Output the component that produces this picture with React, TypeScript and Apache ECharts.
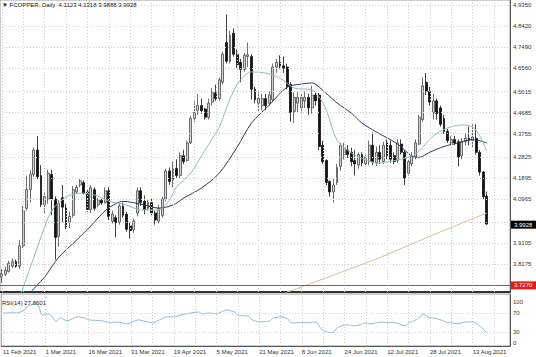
import React, { useEffect, useRef } from 'react';
import * as echarts from 'echarts';

// [open, high, low, close] per daily bar, 11 Feb 2021 onward
const candles: [number, number, number, number][] = [
  [3.765, 3.8, 3.74, 3.78], [3.778, 3.81, 3.77, 3.795], [3.79, 3.835, 3.785, 3.825], [3.812, 3.845, 3.805, 3.832],
  [3.832, 3.84, 3.805, 3.812], [3.812, 3.925, 3.8, 3.9], [3.9, 4.07, 3.89, 4.05], [4.06, 4.2, 4.05, 4.14],
  [4.14, 4.225, 4.085, 4.205], [4.205, 4.32, 4.195, 4.31], [4.31, 4.37, 4.185, 4.195], [4.2, 4.245, 4.065, 4.075],
  [4.075, 4.13, 4.04, 4.11], [4.1, 4.225, 4.08, 4.21], [4.205, 4.225, 4.03, 4.1], [4.1, 4.11, 3.84, 3.935],
  [3.94, 4.095, 3.895, 4.08], [4.105, 4.16, 4.0, 4.065], [4.065, 4.08, 3.97, 3.98], [4.0, 4.045, 3.975, 4.025],
  [4.03, 4.155, 4.02, 4.14], [4.13, 4.16, 4.12, 4.15], [4.16, 4.185, 4.15, 4.177], [4.17, 4.18, 4.12, 4.125],
  [4.13, 4.14, 4.045, 4.055], [4.055, 4.16, 4.04, 4.147], [4.14, 4.15, 4.05, 4.06], [4.075, 4.105, 4.065, 4.095],
  [4.095, 4.1, 4.075, 4.083], [4.085, 4.15, 4.08, 4.135], [4.135, 4.15, 4.01, 4.025], [4.005, 4.05, 3.995, 4.035],
  [4.02, 4.03, 3.935, 3.998], [4.0, 4.08, 3.99, 4.07], [4.07, 4.085, 4.02, 4.03], [4.035, 4.045, 3.96, 3.97],
  [3.985, 4.0, 3.93, 3.965], [3.968, 4.015, 3.955, 4.005], [4.04, 4.15, 4.025, 4.135], [4.135, 4.15, 4.07, 4.085],
  [4.09, 4.115, 4.035, 4.055], [4.06, 4.1, 4.05, 4.085], [4.085, 4.1, 4.03, 4.04], [4.04, 4.05, 3.99, 4.01],
  [4.005, 4.075, 3.995, 4.06], [4.03, 4.11, 4.02, 4.1], [4.1, 4.23, 4.09, 4.22], [4.22, 4.235, 4.16, 4.175],
  [4.18, 4.26, 4.15, 4.23], [4.23, 4.27, 4.19, 4.2], [4.2, 4.3, 4.19, 4.285], [4.285, 4.31, 4.25, 4.26],
  [4.265, 4.35, 4.26, 4.34], [4.34, 4.455, 4.335, 4.445], [4.445, 4.52, 4.43, 4.47], [4.48, 4.55, 4.46, 4.5],
  [4.5, 4.53, 4.465, 4.478], [4.485, 4.49, 4.44, 4.45], [4.45, 4.53, 4.44, 4.51], [4.515, 4.575, 4.5, 4.555],
  [4.555, 4.59, 4.52, 4.53], [4.53, 4.62, 4.52, 4.61], [4.6, 4.73, 4.59, 4.72], [4.77, 4.89, 4.68, 4.69],
  [4.69, 4.82, 4.68, 4.8], [4.81, 4.83, 4.71, 4.72], [4.72, 4.74, 4.66, 4.675], [4.685, 4.7, 4.6, 4.655],
  [4.655, 4.725, 4.645, 4.715], [4.71, 4.77, 4.665, 4.717], [4.71, 4.72, 4.525, 4.57], [4.57, 4.58, 4.51, 4.525],
  [4.51, 4.56, 4.47, 4.53], [4.5, 4.55, 4.48, 4.53], [4.53, 4.55, 4.48, 4.5], [4.51, 4.56, 4.5, 4.545],
  [4.525, 4.68, 4.52, 4.665], [4.665, 4.7, 4.64, 4.685], [4.685, 4.715, 4.655, 4.665], [4.67, 4.71, 4.64, 4.66],
  [4.665, 4.68, 4.57, 4.58], [4.59, 4.6, 4.43, 4.47], [4.475, 4.555, 4.425, 4.535], [4.51, 4.56, 4.47, 4.535],
  [4.49, 4.555, 4.47, 4.535], [4.52, 4.56, 4.49, 4.535], [4.535, 4.55, 4.46, 4.49], [4.49, 4.585, 4.465, 4.545],
  [4.545, 4.56, 4.5, 4.52], [4.545, 4.555, 4.31, 4.325], [4.33, 4.35, 4.25, 4.26], [4.265, 4.27, 4.16, 4.17],
  [4.175, 4.18, 4.11, 4.13], [4.13, 4.19, 4.085, 4.16], [4.17, 4.25, 4.16, 4.235], [4.24, 4.34, 4.22, 4.33],
  [4.29, 4.34, 4.27, 4.32], [4.31, 4.33, 4.275, 4.29], [4.3, 4.32, 4.24, 4.26], [4.265, 4.31, 4.2, 4.25],
  [4.245, 4.3, 4.23, 4.29], [4.29, 4.3, 4.24, 4.255], [4.25, 4.29, 4.24, 4.28], [4.26, 4.35, 4.245, 4.33],
  [4.33, 4.385, 4.245, 4.26], [4.255, 4.325, 4.24, 4.3], [4.3, 4.33, 4.25, 4.27], [4.26, 4.345, 4.25, 4.33],
  [4.34, 4.355, 4.27, 4.285], [4.33, 4.35, 4.255, 4.27], [4.285, 4.3, 4.25, 4.26], [4.265, 4.355, 4.255, 4.34],
  [4.335, 4.355, 4.29, 4.3], [4.3, 4.31, 4.16, 4.19], [4.21, 4.27, 4.2, 4.26], [4.25, 4.3, 4.24, 4.28],
  [4.28, 4.355, 4.27, 4.34], [4.335, 4.46, 4.33, 4.45], [4.44, 4.62, 4.43, 4.585], [4.6, 4.64, 4.545, 4.56],
  [4.56, 4.58, 4.5, 4.515], [4.47, 4.55, 4.44, 4.52], [4.52, 4.53, 4.44, 4.465], [4.49, 4.5, 4.41, 4.42],
  [4.445, 4.46, 4.38, 4.39], [4.39, 4.4, 4.34, 4.35], [4.34, 4.37, 4.33, 4.355], [4.355, 4.37, 4.33, 4.34],
  [4.345, 4.355, 4.24, 4.28], [4.285, 4.36, 4.27, 4.345], [4.345, 4.38, 4.33, 4.36], [4.36, 4.41, 4.33, 4.35],
  [4.35, 4.42, 4.32, 4.365], [4.36, 4.42, 4.29, 4.3], [4.3, 4.31, 4.2, 4.215], [4.215, 4.22, 4.1, 4.11],
  [4.1123, 4.1318, 3.9888, 3.9928],
];

// moving averages: [bar, value]
const maFast: [number, number][] = [
  [5, 3.68], [9, 3.85], [12, 3.98], [14, 4.05], [18, 4.108], [22, 4.125], [26, 4.117], [30, 4.091], [35, 4.074],
  [39, 4.053], [44, 4.053], [47, 4.095], [49, 4.151], [53, 4.211], [57, 4.31], [61, 4.408], [63, 4.49], [66, 4.59],
  [70, 4.644], [74, 4.639], [78, 4.618], [82, 4.575], [87, 4.567], [89, 4.537], [91, 4.481], [94, 4.352], [98, 4.297],
  [101, 4.275], [105, 4.254], [111, 4.267], [115, 4.285], [117, 4.305], [121, 4.37], [125, 4.404], [129, 4.417],
  [132, 4.408], [134, 4.37], [136, 4.305],
];
const maSlow: [number, number][] = [
  [8, 3.7], [12, 3.766], [16, 3.851], [21, 3.924], [25, 3.985], [28, 4.035], [30, 4.062], [34, 4.09], [40, 4.074],
  [44, 4.061], [48, 4.074], [51, 4.104], [56, 4.147], [61, 4.211], [66, 4.322], [70, 4.425], [75, 4.502], [80, 4.579],
  [84, 4.592], [87, 4.597], [89, 4.579], [94, 4.511], [98, 4.468], [101, 4.425], [105, 4.387], [111, 4.335],
  [115, 4.283], [117, 4.278], [120, 4.3], [124, 4.325], [128, 4.34], [132, 4.355], [136, 4.34],
];
const maLong: [number, number][] = [[79, 3.695], [90, 3.757], [105, 3.843], [120, 3.94], [136, 4.04]];

const rsi: [number, number][] = [
  [0, 69.4], [3, 70.6], [4, 70], [6, 76.3], [7, 84.7], [9, 89], [10, 84.7], [11, 65.8], [13, 67.9], [15, 51.7],
  [16, 59.5], [18, 53.2], [21, 61.6], [23, 59.5], [24, 55.3], [28, 53.2], [30, 49], [32, 51], [35, 46.8], [38, 55.3],
  [42, 49], [44, 55.3], [46, 61.6], [48, 61.6], [50, 65.8], [53, 70], [55, 72.1], [56, 67.9], [58, 70], [60, 67.9],
  [62, 74.2], [63, 76.3], [65, 72.1], [66, 65.8], [68, 63.7], [69, 63], [70, 55.3], [72, 51], [73, 51], [75, 53.2],
  [76, 59.5], [78, 61.6], [80, 57.4], [81, 49], [83, 49], [84, 49.6], [86, 49], [88, 51], [89, 40.5], [90, 32.1],
  [92, 28.5], [93, 30], [94, 38.4], [96, 44.7], [97, 44.7], [99, 42.6], [101, 46.8], [102, 49], [103, 46.8],
  [105, 49], [106, 51], [108, 49], [110, 49.6], [113, 42.6], [114, 49], [115, 51.7], [116, 55.3], [117, 59.5],
  [118, 67.9], [120, 59.5], [121, 59.5], [123, 55.3], [125, 49.6], [126, 49], [128, 46.8], [129, 49.6], [131, 51],
  [132, 51], [134, 42.6], [136, 27.8601],
];

const dateLabels = [
  '11 Feb 2021', '1 Mar 2021', '16 Mar 2021', '31 Mar 2021', '19 Apr 2021', '5 May 2021',
  '21 May 2021', '8 Jun 2021', '24 Jun 2021', '12 Jul 2021', '28 Jul 2021', '13 Aug 2021',
];
const priceTickValues = [4.935, 4.842, 4.749, 4.656, 4.5615, 4.4685, 4.3755, 4.2825, 4.1895, 4.0965, 4.0035, 3.9105, 3.8175];
const priceTickLabels = ['4.9350', '4.8420', '4.7490', '4.6560', '4.5615', '4.4685', '4.3755', '4.2825', '4.1895', '4.0965', '', '3.9105', '3.8175'];
const alertLevel = 3.727;
const rsiLevels = [70, 30];
const rsiScale = [100, 70, 30, 0];

const SYMBOL = 'FCOPPER.,Daily';
const LABEL_EVERY = 12;
const GRID_EVERY = 6;
const TOTAL_SLOTS = 143;
const FONT = '"Liberation Sans", Arial, "DejaVu Sans", sans-serif';
const CLEAR = 'rgba(0,0,0,0)';

export default function App() {
  const ref = useRef<HTMLDivElement>(null);
  useEffect(() => {
    const chart = echarts.init(ref.current!, null, { renderer: 'svg' });
    const slots = Array.from({ length: TOTAL_SLOTS }, (_, i) => String(i));
    const last = candles[candles.length - 1];
    const lastRsi = rsi[rsi.length - 1][1];
    const txt = { fontFamily: FONT, fontSize: 6, color: '#333' };
    const vLines: any[] = [];
    for (let b = 0; b < TOTAL_SLOTS; b += GRID_EVERY) vLines.push({ xAxis: String(b) });

    const priceLines = priceTickValues.map((v, k) => ({
      yAxis: v,
      label: { show: priceTickLabels[k] !== '', formatter: priceTickLabels[k] },
    }));

    const option: any = {
      animation: false,
      backgroundColor: '#fff',
      title: [
        {
          text: `▼ ${SYMBOL}  ${last[0].toFixed(4)} ${last[1].toFixed(4)} ${last[2].toFixed(4)} ${last[3].toFixed(4)}`,
          left: 2, top: 2, padding: 0,
          textStyle: { ...txt, fontWeight: 'normal', color: '#222' },
        },
        {
          text: `RSI(14) ${lastRsi.toFixed(4)}`,
          left: 2, top: 300, padding: 0,
          textStyle: { ...txt, fontWeight: 'normal', color: '#222' },
        },
      ],
      grid: [
        { left: 0, top: 0, width: 510, height: 292, show: true, borderColor: '#9a9a9a', borderWidth: 1 },
        { left: 0, top: 294, width: 510, height: 52, show: true, borderColor: '#9a9a9a', borderWidth: 1 },
      ],
      xAxis: [
        {
          type: 'category', gridIndex: 0, data: slots, boundaryGap: true,
          axisLine: { show: true, lineStyle: { color: '#333', width: 2 } },
          axisTick: { show: false }, axisLabel: { show: false }, splitLine: { show: false },
        },
        {
          type: 'category', gridIndex: 1, data: slots, boundaryGap: true,
          axisLine: { show: true, lineStyle: { color: '#555', width: 1 } },
          axisTick: { show: false }, splitLine: { show: false },
          axisLabel: {
            show: true, ...txt, align: 'left', margin: 3,
            interval: (i: number) => i % LABEL_EVERY === 0 && i / LABEL_EVERY < dateLabels.length,
            formatter: (_v: string, i: number) => dateLabels[i / LABEL_EVERY] ?? '',
          },
        },
      ],
      yAxis: [
        {
          type: 'value', gridIndex: 0, min: 3.7016, max: 4.9521, position: 'right',
          axisLine: { show: true, lineStyle: { color: '#555' } },
          axisLabel: { show: false }, axisTick: { show: false }, splitLine: { show: false },
        },
        {
          type: 'value', gridIndex: 1, min: 0, max: 110, position: 'right',
          axisLine: { show: true, lineStyle: { color: '#555' } },
          axisLabel: { show: false }, axisTick: { show: false }, splitLine: { show: false },
        },
      ],
      series: [
        {
          type: 'candlestick', xAxisIndex: 0, yAxisIndex: 0, barWidth: 2.4,
          data: candles.map(([o, h, l, c]) => [o, c, l, h]),
          itemStyle: { color: '#d2d2d2', color0: '#111', borderColor: '#4a4a4a', borderColor0: '#111', borderWidth: 0.8 },
          markLine: {
            silent: true, symbol: ['none', 'none'], animation: false,
            lineStyle: { color: '#cfcfcf', type: [1, 2], width: 1 },
            label: { show: false, position: 'end', distance: 3, ...txt },
            data: [
              ...vLines,
              ...priceLines,
              {
                yAxis: alertLevel,
                lineStyle: { color: '#d83a3a', type: 'solid', width: 1 },
                label: { show: true, formatter: alertLevel.toFixed(4), backgroundColor: '#e31b1b', color: '#fff', padding: [1, 4, 1, 3], distance: 1 },
              },
              {
                yAxis: last[3],
                lineStyle: { color: CLEAR },
                label: { show: true, formatter: last[3].toFixed(4), backgroundColor: '#000', color: '#fff', padding: [1, 4, 1, 3], distance: 1 },
              },
            ],
          },
        },
        {
          type: 'line', xAxisIndex: 0, yAxisIndex: 0, data: maLong, showSymbol: false, smooth: 0.2,
          lineStyle: { color: '#d6bf9c', width: 1 }, silent: true,
        },
        {
          type: 'line', xAxisIndex: 0, yAxisIndex: 0, data: maSlow, showSymbol: false, smooth: 0.3,
          lineStyle: { color: '#2f3b5c', width: 1 }, silent: true,
        },
        {
          type: 'line', xAxisIndex: 0, yAxisIndex: 0, data: maFast, showSymbol: false, smooth: 0.3,
          lineStyle: { color: '#8fbdb6', width: 1 }, silent: true,
        },
        {
          type: 'line', xAxisIndex: 1, yAxisIndex: 1, data: rsi, showSymbol: false, smooth: 0.2,
          lineStyle: { color: '#93b9cf', width: 1 }, silent: true,
          markLine: {
            silent: true, symbol: ['none', 'none'], animation: false,
            lineStyle: { color: '#cfcfcf', type: [1, 2], width: 1 },
            label: { show: false, position: 'end', distance: 3, ...txt },
            data: [
              ...vLines,
              ...rsiScale.map((v) => ({
                yAxis: v,
                lineStyle: rsiLevels.includes(v) ? {} : { color: CLEAR },
                label: {
                  show: true, formatter: String(v), color: '#333',
                  verticalAlign: v === 100 ? 'top' : v === 0 ? 'bottom' : 'middle',
                },
              })),
            ],
          },
        },
      ],
    };
    chart.setOption(option);
    return () => chart.dispose();
  }, []);
  return (
    <div
      ref={ref}
      style={{ position: 'fixed', left: 0, top: 0, width: 536, height: 357, background: '#fff' }}
    />
  );
}
